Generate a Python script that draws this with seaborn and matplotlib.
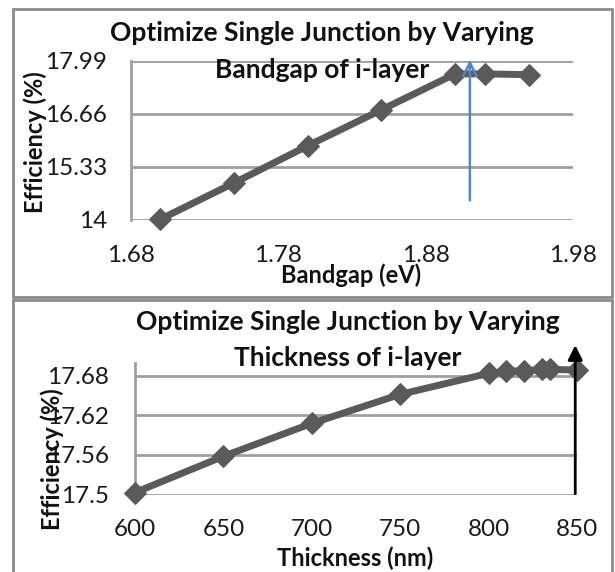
import matplotlib
matplotlib.use("Agg")
import matplotlib.pyplot as plt
import seaborn as sns
import pandas as pd
from matplotlib.patches import Rectangle
from matplotlib.lines import Line2D

# ---- data ----
bandgap = [1.70, 1.75, 1.80, 1.85, 1.90, 1.92, 1.95]
eff_bandgap = [14.02, 14.93, 15.86, 16.76, 17.66, 17.66, 17.64]
bg_xticks = [1.68, 1.78, 1.88, 1.98]
bg_yticks = [14, 15.33, 16.66, 17.99]
bg_ytick_labels = ["14", "15.33", "16.66", "17.99"]

thickness = [600, 650, 700, 750, 800, 810, 820, 830, 835, 850]
eff_thickness = [17.503, 17.558, 17.608, 17.652, 17.684, 17.687, 17.688, 17.690, 17.690, 17.689]
th_xticks = [600, 650, 700, 750, 800, 850]
th_yticks = [17.5, 17.56, 17.62, 17.68]
th_ytick_labels = ["17.5", "17.56", "17.62", "17.68"]

title_line1 = "Optimize Single Junction by Varying"
title_top_line2 = "Bandgap of i-layer"
title_bot_line2 = "Thickness of i-layer"

sns.set_theme(style="white")
FONT = ["Lato", "DejaVu Sans"]
plt.rcParams["font.family"] = FONT

W, H = 615, 572
fig = plt.figure(figsize=(W / 100, H / 100), dpi=100)

def fx(px):
    return px / W

def fy(py):
    return 1 - py / H

LINE_C = "#5a5a5a"
GRID_C = "#a0a0a0"
BOX_C = "#8c8c8c"
TICK_FS = 17.5

# boxes
fig.patches.append(Rectangle((fx(13), fy(297)), fx(612) - fx(13), fy(9) - fy(297),
                             transform=fig.transFigure, fill=False, edgecolor=BOX_C, lw=2))
for xs, ys in [([13, 13], [300, 580]), ([13, 612], [300, 300]), ([612, 612], [300, 580])]:
    fig.lines.append(Line2D([fx(x) for x in xs], [fy(y) for y in ys],
                            transform=fig.transFigure, color=BOX_C, lw=2))

def style_axes(ax, xticks, yticks, ylabels, ypad, xpad):
    ax.set_xticks(xticks)
    ax.set_yticks(yticks)
    ax.set_yticklabels(ylabels)
    ax.grid(axis="y", color=GRID_C, lw=2)
    ax.grid(axis="x", visible=False)
    for s in ["top", "right", "bottom"]:
        ax.spines[s].set_visible(False)
    ax.spines["left"].set_color(GRID_C)
    ax.spines["left"].set_linewidth(2)
    ax.tick_params(axis="both", length=0, labelsize=TICK_FS, colors="#1a1a1a")
    ax.tick_params(axis="y", pad=ypad)
    ax.tick_params(axis="x", pad=xpad)
    ax.set_xlabel("")
    ax.set_ylabel("")
    ax.patch.set_alpha(0)

# ---- top chart ----
ax1 = fig.add_axes([fx(131), fy(220), fx(573) - fx(131), fy(60.7) - fy(220)])
df1 = pd.DataFrame({"x": bandgap, "y": eff_bandgap})
sns.lineplot(data=df1, x="x", y="y", ax=ax1, color=LINE_C, lw=5, marker="D",
             markersize=11, markeredgecolor=LINE_C, clip_on=False, zorder=3)
ax1.set_xlim(1.68, 1.98)
ax1.set_ylim(14, 17.99)
style_axes(ax1, bg_xticks, bg_yticks, bg_ytick_labels, ypad=17, xpad=18)
ax1.set_xticklabels([f"{v:.2f}" for v in bg_xticks])
ax1.annotate("", xy=(1.91, 18.08), xytext=(1.91, 14.42),
             arrowprops=dict(arrowstyle="->", color="#5286c4", lw=1.8, mutation_scale=24),
             annotation_clip=False, zorder=5)

# ---- bottom chart ----
ax2 = fig.add_axes([fx(135), fy(494.5), fx(577) - fx(135), fy(362.8) - fy(494.5)])
df2 = pd.DataFrame({"x": thickness, "y": eff_thickness})
sns.lineplot(data=df2, x="x", y="y", ax=ax2, color=LINE_C, lw=5, marker="D",
             markersize=11, markeredgecolor=LINE_C, clip_on=False, zorder=3)
ax2.set_xlim(600, 850)
ax2.set_ylim(17.5, 17.70)
style_axes(ax2, th_xticks, th_yticks, th_ytick_labels, ypad=19, xpad=18)
ax2.annotate("", xy=(849, 17.731), xytext=(849, 17.497),
             arrowprops=dict(arrowstyle="-|>", color="black", lw=2, mutation_scale=22),
             annotation_clip=False, zorder=5)

# ---- titles and labels ----
tkw = dict(ha="center", va="center", fontsize=19, fontweight="bold", color="#111111")
fig.text(fx(322), fy(33), title_line1, **tkw)
fig.text(fx(322), fy(70), title_top_line2, **tkw)
fig.text(fx(348), fy(321.7), title_line1, **tkw)
fig.text(fx(348), fy(358.3), title_bot_line2, **tkw)

lkw = dict(ha="center", va="center", fontsize=17, fontweight="bold", color="#111111")
fig.text(fx(351), fy(275), "Bandgap (eV)", **lkw)
fig.text(fx(355), fy(558), "Thickness (nm)", **lkw)
fig.text(fx(35.4), fy(142.5), "Efficiency (%)", rotation=90, **lkw)
fig.text(fx(52.5), fy(459), "Efficiency (%)", rotation=90, **lkw)

fig.savefig("out.png", dpi=100)
